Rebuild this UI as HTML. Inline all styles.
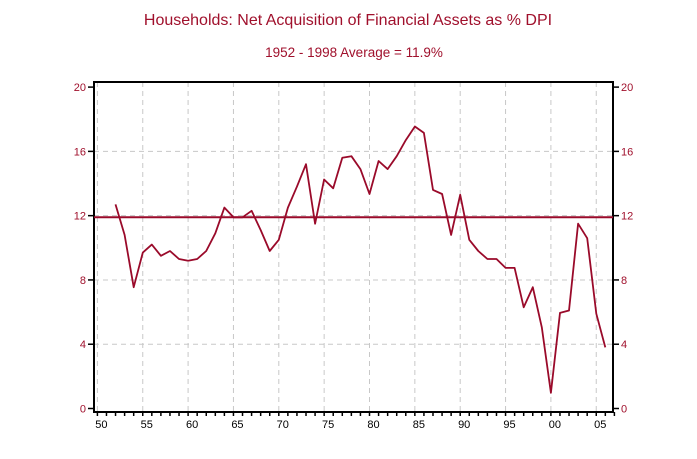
<!DOCTYPE html>
<html><head><meta charset="utf-8"><style>
body{margin:0;background:#fff;width:697px;height:454px;overflow:hidden;font-family:"Liberation Sans",sans-serif}
</style></head><body>
<svg width="697" height="454">
<text x="348" y="25" text-anchor="middle" font-size="16" fill="#a0102c">Households: Net Acquisition of Financial Assets as % DPI</text>
<text x="354" y="57" text-anchor="middle" font-size="13.5" fill="#a0102c">1952 - 1998 Average = 11.9%</text>
<g id="grid"></g>
<g id="axes"></g>
<path id="avg" fill="none" stroke="#9a0a2a" stroke-width="2"/>
<path id="line" fill="none" stroke="#9a0a2a" stroke-width="1.8" stroke-linejoin="round"/>
</svg>
<script>
const years=[1952,1953,1954,1955,1956,1957,1958,1959,1960,1961,1962,1963,1964,1965,1966,1967,1968,1969,1970,1971,1972,1973,1974,1975,1976,1977,1978,1979,1980,1981,1982,1983,1984,1985,1986,1987,1988,1989,1990,1991,1992,1993,1994,1995,1996,1997,1998,1999,2000,2001,2002,2003,2004,2005,2006];
const values=[12.7,10.8,7.55,9.7,10.2,9.5,9.8,9.3,9.2,9.3,9.8,10.9,12.5,11.9,11.9,12.3,11.1,9.8,10.5,12.5,13.8,15.2,11.5,14.25,13.7,15.6,15.7,14.9,13.35,15.4,14.9,15.7,16.7,17.55,17.15,13.6,13.35,10.8,13.3,10.5,9.8,9.3,9.3,8.75,8.75,6.3,7.55,5.05,0.98,5.95,6.1,11.5,10.6,5.9,3.8];
const average=11.9;
const yTicks=[0,4,8,12,16,20];
const xTickYears=[1950,1955,1960,1965,1970,1975,1980,1985,1990,1995,2000,2005];
const xTickLabels=["50","55","60","65","70","75","80","85","90","95","00","05"];
const L=94,R=613,T=82,B=412;
const X=y=>97.4+(y-1950)*9.07;
const Y=v=>408.5-v*16.07;
const NS="http://www.w3.org/2000/svg";
function mk(tag,attrs,parent,txt){const e=document.createElementNS(NS,tag);for(const k in attrs)e.setAttribute(k,attrs[k]);if(txt!=null)e.textContent=txt;parent.appendChild(e);return e;}
const grid=document.getElementById('grid'),axes=document.getElementById('axes');
xTickYears.forEach(y=>{const e=mk('line',{x1:X(y),x2:X(y),y1:T,y2:B,stroke:'#c8c8c8','stroke-dasharray':'5,4'},grid);

});
yTicks.forEach(v=>{if(v>0&&v<20){const e=mk('line',{x1:L,x2:R,y1:Y(v),y2:Y(v),stroke:'#c8c8c8','stroke-dasharray':'5,4'},grid);

}});
const fr=mk('rect',{x:L,y:T,width:R-L,height:B-T,fill:'none',stroke:'#000','stroke-width':2},axes);


yTicks.forEach(v=>{
 mk('line',{x1:L-6,x2:L,y1:Y(v),y2:Y(v),stroke:'#000','stroke-width':1.5},axes);
 mk('line',{x1:R,x2:R+6,y1:Y(v),y2:Y(v),stroke:'#000','stroke-width':1.5},axes);
 const a=mk('text',{x:L-8,y:Y(v)+4,'text-anchor':'end','font-size':11,fill:'#a0102c'},axes,String(v));
 
 
 const b=mk('text',{x:R+8,y:Y(v)+4,'font-size':11,fill:'#a0102c'},axes,String(v));
 
 
});
for(let y=1950;y<=2007;y++){mk('line',{x1:X(y),x2:X(y),y1:B,y2:B+4,stroke:'#000','stroke-width':1.5},axes);}
xTickYears.forEach((y,i)=>{const t=mk('text',{x:X(y)+4,y:B+16,'text-anchor':'middle','font-size':11,fill:'#000'},axes,xTickLabels[i]);

});
document.getElementById('avg').setAttribute('d',`M${L} ${Y(average)}H${R}`);
document.getElementById('line').setAttribute('d',years.map((y,i)=>(i?'L':'M')+X(y).toFixed(1)+' '+Y(values[i]).toFixed(1)).join(''));
</script>
</body></html>
